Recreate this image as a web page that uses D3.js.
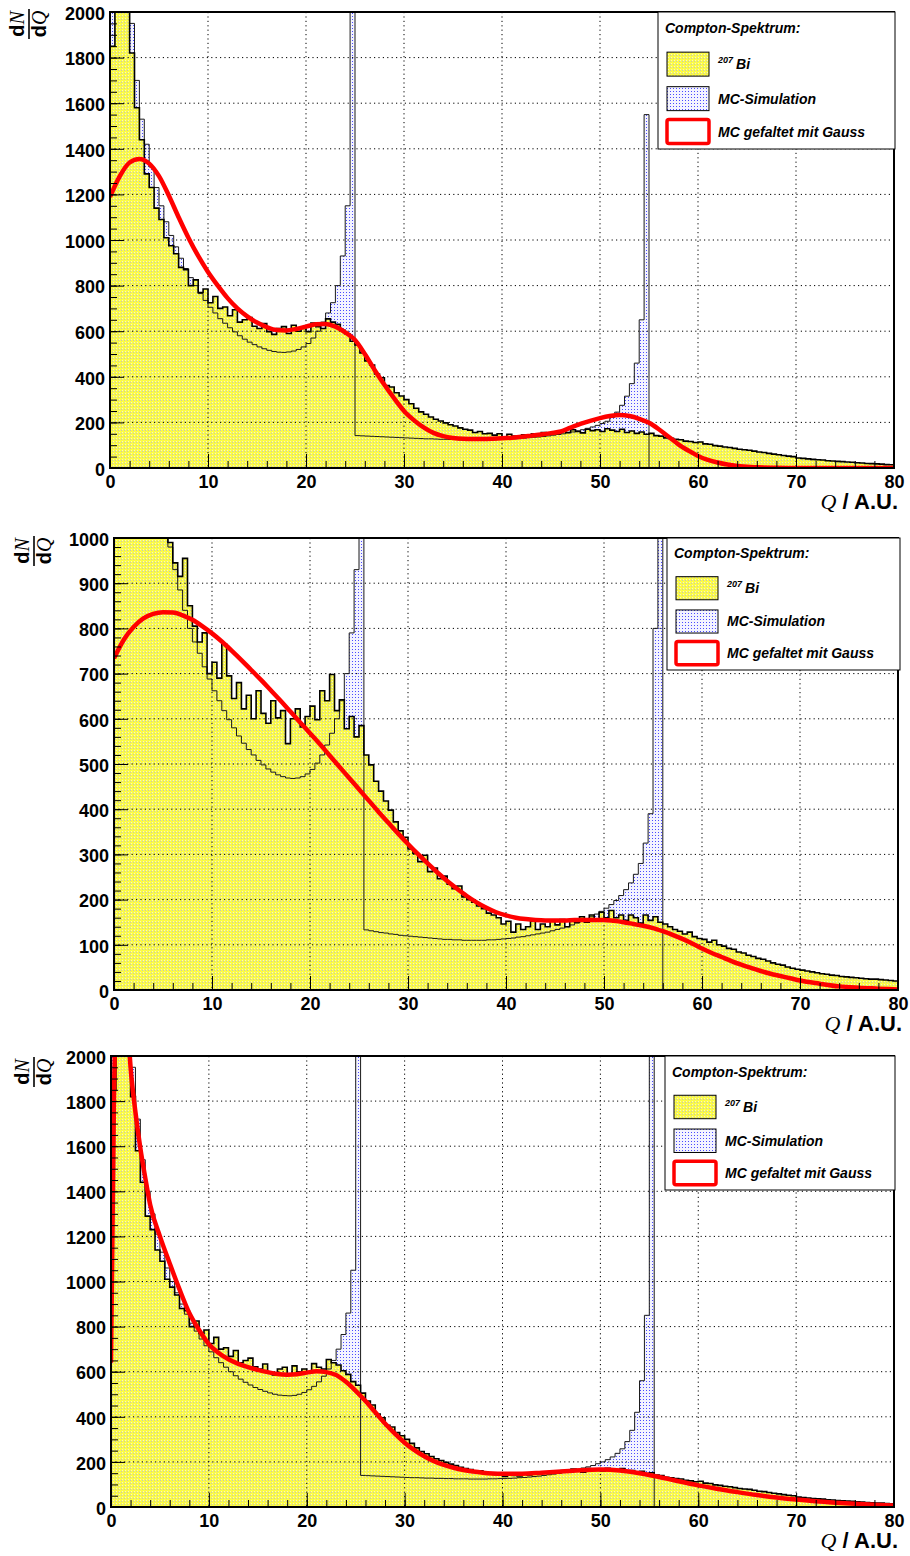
<!DOCTYPE html>
<html><head><meta charset="utf-8">
<script src="https://cdn.jsdelivr.net/npm/d3@7"></script>
<style>body{margin:0;background:#fff}svg{display:block}</style>
</head><body>
<svg id="c" width="910" height="1556"></svg>
<script>
// ---------------- DATA ----------------
const binWidth = 0.5; // histogram bin width in Q units (bins start at 0)

// 207Bi measured spectrum (panels 1 and 3)
const dataA = [
1850,2600,2700,2250,1820,1580,1440,1290,1230,1140,
1090,1010,975,940,880,870,800,825,770,785,
725,752,700,706,668,694,640,650,660,622,
612,634,598,586,612,620,590,626,600,612,
598,636,620,612,654,640,630,604,588,556,
540,505,470,452,412,396,362,355,330,316,
300,282,262,246,236,224,214,206,198,190,
184,176,170,166,156,160,150,152,144,150,
136,148,140,138,146,142,150,146,156,150,
158,152,162,156,168,160,154,170,164,168,
160,172,166,160,170,156,162,152,158,148,
152,142,140,132,130,126,124,118,116,112,
114,106,104,98,96,92,90,86,82,80,
78,74,70,68,64,61,58,55,52,50,
44,42,40,38,36,35,32,31,29,28,
26,25,23,22,20,19,18,17,15,14];

// 207Bi measured spectrum (panel 2)
const dataB = [
1500,2000,2000,1900,1700,1550,1400,1300,1200,1120,
1040,990,945,915,955,850,805,770,790,700,
725,690,765,695,645,680,622,652,600,662,
612,590,640,602,618,545,600,622,582,605,
628,598,662,640,698,618,642,578,605,560,
585,520,498,462,440,418,398,372,352,338,
312,302,284,298,262,270,246,252,234,224,
230,206,200,194,186,180,170,166,160,146,
152,128,146,134,140,152,134,146,140,152,
144,156,140,156,150,162,150,166,154,172,
160,176,160,166,154,166,160,148,166,154,
162,150,146,140,134,130,124,128,118,114,
112,106,110,100,97,92,90,84,82,77,
74,70,68,64,60,57,55,51,48,46,
44,42,40,38,36,35,33,32,30,29,
28,27,26,25,24,24,23,22,21,20];

// MC simulation histograms
const mc1 = [
2400,3000,3000,2500,1950,1700,1530,1420,1320,1230,
1150,1080,1020,970,920,875,835,800,765,735,
705,680,655,635,615,597,580,565,552,541,
531,523,516,511,508,507,509,513,520,531,
546,570,600,640,680,725,800,930,1150,2600,
142,141,140,139,138,137,136,135,134,133,
132,131,130,129,128,128,127,126,126,125,
125,124,124,124,123,123,123,124,124,125,
126,127,128,129,131,133,135,136,138,141,
144,147,150,154,158,163,168,174,180,187,
195,205,222,245,275,315,370,460,650,1550,
0,0,0,0,0,0,0,0,0,0,
0,0,0,0,0,0,0,0,0,0,
0,0,0,0,0,0,0,0,0,0,
0,0,0,0,0,0,0,0,0,0,
0,0,0,0,0,0,0,0,0,0];

const mc2 = [
1300,1700,1750,1650,1500,1400,1300,1220,1150,1090,
1030,980,930,885,840,800,770,745,715,688,
662,640,618,598,580,562,546,532,520,508,
498,489,482,476,472,469,468,469,472,478,
488,502,520,542,568,600,640,700,790,930,
2000,133,131,129,127,126,124,123,121,120,
119,118,117,116,115,114,113,112,112,111,
111,110,110,110,110,110,111,111,112,113,
114,115,117,118,120,122,124,126,128,131,
134,137,140,144,148,152,157,162,168,174,
181,189,198,209,222,237,256,280,325,390,
800,1500,0,0,0,0,0,0,0,0,
0,0,0,0,0,0,0,0,0,0,
0,0,0,0,0,0,0,0,0,0,
0,0,0,0,0,0,0,0,0,0,
0,0,0,0,0,0,0,0,0,0];

const mc3 = [
2400,3000,3000,2500,1950,1720,1540,1400,1300,1210,
1130,1060,1000,950,900,855,815,780,745,715,
688,662,640,620,600,582,567,553,541,530,
521,513,506,500,496,494,493,495,500,508,
520,535,555,580,612,650,700,765,860,1050,
3000,140,139,138,137,136,135,134,133,132,
131,130,130,129,128,128,127,127,126,126,
125,125,125,124,124,124,124,125,125,126,
126,127,128,130,131,133,135,137,140,143,
146,150,154,158,163,168,173,178,184,192,
200,210,222,238,258,290,340,420,560,850,
3000,0,0,0,0,0,0,0,0,0,
0,0,0,0,0,0,0,0,0,0,
0,0,0,0,0,0,0,0,0,0,
0,0,0,0,0,0,0,0,0,0,
0,0,0,0,0,0,0,0,0,0];

// "MC gefaltet mit Gauss" curves (sampled points)
const fold1X = [0,1,2,3,4,5,6,7,8,9,10,11,12,13,14,15,16,17,18,19,20,21,22,23,24,25,26,27,28,29,30,31,32,33,34,35,36,37,38,39,40,41,42,43,44,45,46,47,48,49,50,51,52,53,54,55,56,57,58,59,60,61,62,63,64,65,66,68,70,75,80];
const fold1Y = [1189,1280,1340,1355,1335,1280,1195,1100,1010,930,860,800,745,700,665,638,618,605,603,610,620,630,632,620,595,561,500,430,365,305,250,210,178,154,140,132,128,127,127,128,130,133,137,142,147,153,160,177,193,207,219,228,232,228,216,198,170,137,104,77,53,36,24,15,9,6,3,1,0,0,0];

const fold2X = [0,1,2,3,4,5,6,7,8,9,10,11,12,13,14,15,16,17,18,19,20,21,22,23,24,25,26,27,28,29,30,31,32,33,34,35,36,37,38,39,40,41,42,43,44,45,46,47,48,49,50,51,52,53,54,55,56,57,58,59,60,61,62,63,64,65,66,67,68,69,70,72,74,76,78,80];
const fold2Y = [734,775,803,822,832,836,835,829,819,805,789,771,751,730,708,686,663,640,616,592,568,544,519,494,469,444,419,394,370,346,323,301,280,260,241,224,208,194,182,172,165,160,157,155,154,154,154,155,155,155,155,153,150,146,142,137,130,122,113,103,92,82,73,64,56,49,42,36,31,26,21,14,8,5,3,1];

const fold3X = [0,0.3,0.6,1,1.5,2,2.5,3,3.5,4,5,6,7,8,9,10,11,12,13,14,15,16,17,18,19,20,21,22,23,24,25,26,27,28,29,30,31,32,33,34,35,36,37,38,39,40,42,44,46,48,50,52,54,56,58,60,62,64,66,68,70,72,74,76,78,80];
const fold3Y = [640,1800,2400,2600,2300,1950,1750,1590,1460,1340,1200,1080,965,860,785,722,683,655,635,620,608,598,590,587,589,596,602,598,585,555,515,470,420,370,325,285,252,225,203,187,174,164,157,152,149,148,148,152,157,163,166,162,150,133,114,96,80,66,53,42,33,25,19,14,10,7];

// ticks and labels
const xMajor = [0,10,20,30,40,50,60,70,80];
const xMinor = d3.range(0, 81, 2);
const yMajor2000 = [0,200,400,600,800,1000,1200,1400,1600,1800,2000];
const yMinor2000 = d3.range(0, 2001, 50);
const yMajor1000 = [0,100,200,300,400,500,600,700,800,900,1000];
const yMinor1000 = d3.range(0, 1001, 20);
const legendTitle = "Compton-Spektrum:";
const legendIso = "207";
const legendBi = "Bi";
const legendMC = "MC-Simulation";
const legendFold = "MC gefaltet mit Gauss";

// ---------------- LAYOUT ----------------
const panels = [
  {data: dataA, mc: mc1, fx: fold1X, fy: fold1Y, ymax: 2000, yMaj: yMajor2000, yMin: yMinor2000,
   l:110, r:894, t:12, b:468, leg:{x:658, y:12, w:237, h:137}, frac:{x:29, y:24}},
  {data: dataB, mc: mc2, fx: fold2X, fy: fold2Y, ymax: 1000, yMaj: yMajor1000, yMin: yMinor1000,
   l:114, r:898, t:538, b:990, leg:{x:667, y:538, w:233, h:132}, frac:{x:34, y:551}},
  {data: dataA, mc: mc3, fx: fold3X, fy: fold3Y, ymax: 2000, yMaj: yMajor2000, yMin: yMinor2000,
   l:111, r:894, t:1056, b:1507, leg:{x:665, y:1056, w:230, h:134}, frac:{x:34, y:1072}}
];

const SANS = "'Liberation Sans', Arial, Helvetica, sans-serif";
const SERIF = "'Liberation Serif', 'Times New Roman', serif";

const svg = d3.select("#c");
const defs = svg.append("defs");

// yellow dotted pattern
const pY = defs.append("pattern").attr("id","pY").attr("width",3).attr("height",3).attr("patternUnits","userSpaceOnUse");
pY.append("rect").attr("width",3).attr("height",3).attr("fill","#fbfb46");
pY.append("rect").attr("x",1).attr("y",1).attr("width",1).attr("height",1).attr("fill","#c4c4b4");
pY.append("rect").attr("x",2).attr("y",0).attr("width",1).attr("height",1).attr("fill","#f4f4c8");
// blue dotted pattern
const pB = defs.append("pattern").attr("id","pB").attr("width",3).attr("height",3).attr("patternUnits","userSpaceOnUse");
pB.append("rect").attr("width",3).attr("height",3).attr("fill","#f3f3ff");
pB.append("rect").attr("x",1).attr("y",1).attr("width",1).attr("height",1).attr("fill","#4a4aff");

function toPts(vals){
  const pts = vals.map((v,i)=>({x:i*binWidth, v}));
  pts.push({x: vals.length*binWidth, v: vals[vals.length-1]});
  return pts;
}

panels.forEach((P, k) => {
  const x = d3.scaleLinear().domain([0,80]).range([P.l, P.r]);
  const y = d3.scaleLinear().domain([0,P.ymax]).range([P.b, P.t]);
  const clipId = "clip"+k;
  defs.append("clipPath").attr("id",clipId).append("rect")
    .attr("x",P.l).attr("y",P.t).attr("width",P.r-P.l).attr("height",P.b-P.t);

  const g = svg.append("g");
  g.append("rect").attr("x",P.l).attr("y",P.t).attr("width",P.r-P.l).attr("height",P.b-P.t).attr("fill","#fff");
  const pg = g.append("g").attr("clip-path",`url(#${clipId})`);

  const area = d3.area().curve(d3.curveStepAfter).x(d=>x(d.x)).y0(y(0)).y1(d=>y(d.v));
  const step = d3.line().curve(d3.curveStepAfter).x(d=>x(d.x)).y(d=>y(d.v));

  pg.append("path").attr("d", area(toPts(P.mc))).attr("fill","url(#pB)");
  pg.append("path").attr("d", area(toPts(P.data))).attr("fill","url(#pY)");

  // grid
  const gx = xMajor.filter(v=>v>0 && v<80);
  const gy = P.yMaj.filter(v=>v>0 && v<P.ymax);
  pg.selectAll(".gx").data(gx).join("line").attr("x1",d=>x(d)).attr("x2",d=>x(d)).attr("y1",P.t).attr("y2",P.b)
    .attr("stroke","#000").attr("stroke-width",1).attr("stroke-dasharray","1.2,3.2");
  pg.selectAll(".gy").data(gy).join("line").attr("y1",d=>y(d)).attr("y2",d=>y(d)).attr("x1",P.l).attr("x2",P.r)
    .attr("stroke","#000").attr("stroke-width",1).attr("stroke-dasharray","1.2,3.2");

  pg.append("path").attr("d", step(toPts(P.mc))).attr("fill","none").attr("stroke","#1a1a1a").attr("stroke-width",1);
  pg.append("path").attr("d", step(toPts(P.data))).attr("fill","none").attr("stroke","#000").attr("stroke-width",1.6);

  const fold = P.fx.map((xx,i)=>({x:xx, v:P.fy[i]}));
  pg.append("path").attr("d", d3.line().curve(d3.curveMonotoneX).x(d=>x(d.x)).y(d=>y(d.v))(fold))
    .attr("fill","none").attr("stroke","#ff0000").attr("stroke-width",4.5).attr("stroke-linejoin","round");

  // axes (ticks inside)
  const styleAxis = s => { s.select(".domain").remove(); s.attr("font-family",SANS).attr("font-size",18).attr("font-weight","bold");
    s.selectAll("text").attr("fill","#000"); s.selectAll("line").attr("stroke","#000").attr("stroke-width",1); };
  g.append("g").attr("transform",`translate(0,${P.b})`)
    .call(d3.axisBottom(x).tickValues(xMinor).tickSize(-7).tickFormat("")).call(styleAxis);
  g.append("g").attr("transform",`translate(0,${P.b})`)
    .call(d3.axisBottom(x).tickValues(xMajor).tickSize(-14).tickPadding(7).tickFormat(d3.format("d"))).call(styleAxis);
  g.append("g").attr("transform",`translate(${P.l},0)`)
    .call(d3.axisLeft(y).tickValues(P.yMin).tickSize(-7).tickFormat("")).call(styleAxis);
  const ya = g.append("g").attr("transform",`translate(${P.l},0)`)
    .call(d3.axisLeft(y).tickValues(P.yMaj).tickSize(-14).tickPadding(5).tickFormat(d3.format("d"))).call(styleAxis);
  ya.selectAll("text").attr("dy","0.4em");

  // frame
  g.append("rect").attr("x",P.l).attr("y",P.t).attr("width",P.r-P.l).attr("height",P.b-P.t)
    .attr("fill","none").attr("stroke","#000").attr("stroke-width",2);

  // x title
  const xt = g.append("text").attr("x",P.r+4).attr("y",P.b+41).attr("text-anchor","end").attr("font-size",22);
  xt.append("tspan").attr("font-family",SERIF).attr("font-style","italic").text("Q");
  xt.append("tspan").attr("font-family",SANS).attr("font-weight","bold").text(" / A.U.");

  // y title (dN/dQ fraction, rotated)
  const fg = g.append("g").attr("transform",`translate(${P.frac.x},${P.frac.y}) rotate(-90)`);
  const num = fg.append("text").attr("x",0).attr("y",-5).attr("text-anchor","middle").attr("font-size",20);
  num.append("tspan").attr("font-family",SANS).attr("font-weight","bold").text("d");
  num.append("tspan").attr("font-family",SERIF).attr("font-style","italic").text("N");
  const den = fg.append("text").attr("x",0).attr("y",17).attr("text-anchor","middle").attr("font-size",20);
  den.append("tspan").attr("font-family",SANS).attr("font-weight","bold").text("d");
  den.append("tspan").attr("font-family",SERIF).attr("font-style","italic").text("Q");
  fg.append("line").attr("x1",-15).attr("x2",15).attr("y1",0).attr("y2",0).attr("stroke","#000").attr("stroke-width",1.6);

  // legend
  const L = P.leg;
  const lg = g.append("g");
  lg.append("rect").attr("x",L.x).attr("y",L.y).attr("width",L.w).attr("height",L.h)
    .attr("fill","#fff").attr("stroke","#000").attr("stroke-width",1);
  lg.append("text").attr("x",L.x+7).attr("y",L.y+L.h*0.155).attr("font-family",SANS).attr("font-weight","bold")
    .attr("font-style","italic").attr("font-size",14).text(legendTitle);
  const rows = [0.293, 0.545, 0.785];
  const bh = L.h*0.175;
  const fills = ["url(#pY)","url(#pB)","#fff"];
  rows.forEach((fr,i)=>{
    const by = L.y + L.h*fr;
    const r = lg.append("rect").attr("x",L.x+9).attr("y",by).attr("width",42).attr("height",bh).attr("fill",fills[i]);
    if(i<2) r.attr("stroke","#000").attr("stroke-width",1);
    else r.attr("stroke","#ff0000").attr("stroke-width",3.5).attr("rx",2);
    const ty = by + bh/2 + 5;
    const t = lg.append("text").attr("x",L.x+60).attr("y",ty).attr("font-family",SANS).attr("font-weight","bold")
      .attr("font-style","italic").attr("font-size",14);
    if(i===0){
      t.append("tspan").attr("font-size",9).attr("dy",-6).text(legendIso);
      t.append("tspan").attr("dy",6).attr("dx",3).text(legendBi);
    } else t.text(i===1?legendMC:legendFold);
  });
});
</script>
</body></html>
